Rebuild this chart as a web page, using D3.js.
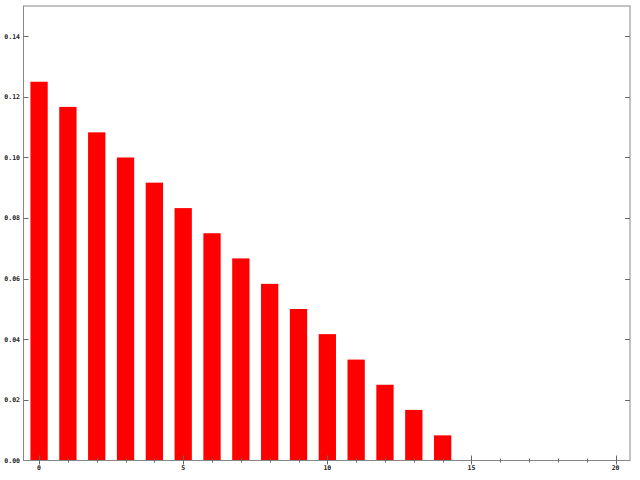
<!DOCTYPE html>
<html lang="en">
<head>
  <meta charset="UTF-8">
  <title>Bar chart</title>
  <script src="https://d3js.org/d3.v7.min.js"></script>
  <style>
    body { margin: 0; background: #fff; }
    .label { font-family: "DejaVu Sans Mono", monospace; font-weight: bold; font-size: 6.5px; fill: #222; }
  </style>
</head>
<body>
  <svg width="640" height="480"></svg>
  <script>
    // Data
    const positions = [0, 1, 2, 3, 4, 5, 6, 7, 8, 9, 10, 11, 12, 13, 14];
    const values = [0.125, 0.1167, 0.1083, 0.1, 0.0917, 0.0833, 0.075, 0.0667,
                    0.0583, 0.05, 0.0417, 0.0333, 0.025, 0.0167, 0.0083];
    const xMajorTicks = [0, 5, 10, 15, 20];
    const xMinorTicks = d3.range(0, 21);
    const yTicks = [0, 0.02, 0.04, 0.06, 0.08, 0.10, 0.12, 0.14];

    const svg = d3.select("svg");
    const plotLeft = 23.5, plotRight = 630, plotTop = 6, plotBottom = 460.5;

    const x = d3.scaleLinear().domain([-0.54, 20.5]).range([plotLeft, plotRight]);
    const y = d3.scaleLinear().domain([0, 0.15]).range([plotBottom, plotTop]);
    const barW = x(0.6) - x(0);

    // Bars
    svg.append("g")
      .selectAll("rect")
      .data(positions)
      .enter().append("rect")
      .attr("x", (d) => x(d) - barW / 2)
      .attr("width", barW)
      .attr("y", (d, i) => y(values[i]))
      .attr("height", (d, i) => y(0) - y(values[i]))
      .attr("fill", "#ff0000");

    // Frame
    svg.append("rect")
      .attr("x", plotLeft).attr("y", plotTop)
      .attr("width", plotRight - plotLeft).attr("height", plotBottom - plotTop)
      .attr("fill", "none")
      .attr("stroke", "#888")
      .attr("stroke-width", 1);

    const axes = svg.append("g").attr("stroke", "#666").attr("stroke-width", 1);

    // X minor ticks
    axes.selectAll("line.minor")
      .data(xMinorTicks.filter(d => !xMajorTicks.includes(d)))
      .enter().append("line")
      .attr("x1", d => Math.round(x(d)) + 0.5).attr("x2", d => Math.round(x(d)) + 0.5)
      .attr("y1", plotBottom - 2).attr("y2", plotBottom + 2);

    // X major ticks
    axes.selectAll("line.major")
      .data(xMajorTicks)
      .enter().append("line")
      .attr("x1", d => Math.round(x(d)) + 0.5).attr("x2", d => Math.round(x(d)) + 0.5)
      .attr("y1", plotBottom - 5).attr("y2", plotBottom + 4);

    // Y ticks, left and right, pointing inward
    axes.selectAll("line.yl")
      .data(yTicks.filter(d => d > 0))
      .enter().append("line")
      .attr("x1", plotLeft).attr("x2", plotLeft + 5)
      .attr("y1", d => Math.round(y(d)) + 0.5).attr("y2", d => Math.round(y(d)) + 0.5);

    axes.selectAll("line.yr")
      .data(yTicks.filter(d => d > 0))
      .enter().append("line")
      .attr("x1", plotRight - 5).attr("x2", plotRight)
      .attr("y1", d => Math.round(y(d)) + 0.5).attr("y2", d => Math.round(y(d)) + 0.5);

    // Labels
    svg.append("g")
      .selectAll("text")
      .data(yTicks)
      .enter().append("text")
      .attr("class", "label")
      .attr("x", 20)
      .attr("y", d => y(d) + 2.3)
      .attr("text-anchor", "end")
      .text(d => d.toFixed(2));

    svg.append("g")
      .selectAll("text")
      .data(xMajorTicks)
      .enter().append("text")
      .attr("class", "label")
      .attr("x", d => x(d))
      .attr("y", 470)
      .attr("text-anchor", "middle")
      .text(d => d);
  </script>
</body>
</html>
